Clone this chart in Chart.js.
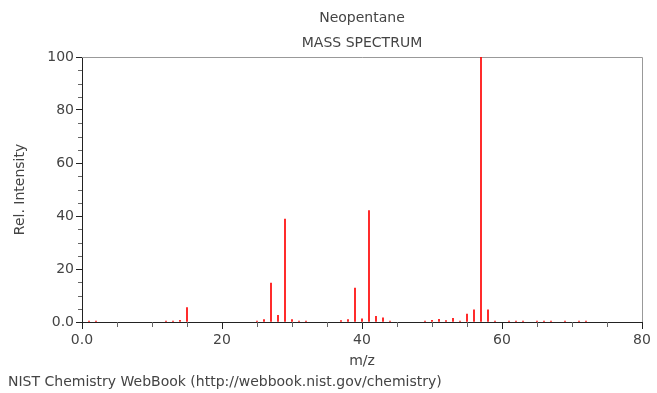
<!DOCTYPE html>
<html>
<head>
<meta charset="utf-8">
<script src="https://cdn.jsdelivr.net/npm/chart.js@4"></script>
<style>
  body { margin: 0; background: #fff; }
  canvas { display: block; }
</style>
</head>
<body>
<canvas id="msChart" width="657" height="393"></canvas>
<script>
// peaks (m/z and relative intensity)
const mzValues = [1, 2, 12, 13, 14, 15, 25, 26, 27, 28, 29, 30, 31, 32, 37, 38, 39, 40, 41, 42, 43, 44,
  49, 50, 51, 52, 53, 54, 55, 56, 57, 58, 59, 61, 62, 63, 65, 66, 67, 69, 71, 72];
const intensities = [0.2, 0.3, 0.2, 0.3, 0.6, 5.4, 0.2, 0.9, 14.7, 2.5, 38.8, 0.9, 0.3, 0.2, 0.5, 0.9, 12.8, 1.2, 42.0, 2.1, 1.6, 0.3,
  0.2, 0.6, 1.0, 0.5, 1.4, 0.2, 3.0, 4.6, 100, 4.6, 0.2, 0.2, 0.2, 0.2, 0.2, 0.2, 0.2, 0.2, 0.2, 0.2];
const titleLines = ['Neopentane', 'MASS SPECTRUM'];
const xLabel = 'm/z';
const yLabel = 'Rel. Intensity';
const footerText = 'NIST Chemistry WebBook (http://webbook.nist.gov/chemistry)';

const FONT = 'DejaVu Sans';
const TEXT = '#444';
const AXIS = '#222';

const peaks = mzValues.map((m, i) => ({ x: m, y: intensities[i] }));

// label only every 20, ticks every 5
function tickLabel(v) {
  if (v % 20 !== 0) return '';
  return v === 0 ? '0.0' : String(v);
}

// frame, minor ticks and footer
const extras = {
  id: 'extras',
  beforeDatasetsDraw(chart) {
    const { ctx, chartArea: a } = chart;
    ctx.save();
    ctx.strokeStyle = '#999';
    ctx.lineWidth = 1;
    ctx.beginPath();
    ctx.moveTo(a.left, a.top + 0.5);
    ctx.lineTo(a.right + 0.5, a.top + 0.5);
    ctx.lineTo(a.right + 0.5, a.bottom);
    ctx.stroke();
    ctx.restore();
  },
  afterDraw(chart) {
    const { ctx, chartArea: a, scales } = chart;
    ctx.save();
    ctx.strokeStyle = '#666';
    ctx.lineWidth = 1;
    ctx.beginPath();
    for (let v = 5; v < 80; v += 5) {
      if (v % 20 === 0) continue;
      const px = Math.round(scales.x.getPixelForValue(v)) + 0.5;
      ctx.moveTo(px, a.bottom);
      ctx.lineTo(px, a.bottom + 5);
    }
    for (let v = 5; v < 100; v += 5) {
      if (v % 20 === 0) continue;
      const py = Math.round(scales.y.getPixelForValue(v)) + 0.5;
      ctx.moveTo(a.left, py);
      ctx.lineTo(a.left - 4, py);
    }
    ctx.stroke();
    ctx.fillStyle = TEXT;
    ctx.font = '14px "' + FONT + '"';
    ctx.textBaseline = 'middle';
    ctx.textAlign = 'left';
    ctx.fillText(footerText, 8, 382);
    ctx.restore();
  }
};

const ctx = document.getElementById('msChart').getContext('2d');
new Chart(ctx, {
  type: 'bar',
  data: {
    datasets: [{
      data: peaks,
      backgroundColor: 'rgb(255, 0, 0)',
      borderWidth: 0,
      barThickness: 1,
      minBarLength: 1
    }]
  },
  options: {
    responsive: false,
    animation: false,
    layout: { padding: { top: 0, right: 15, bottom: 23, left: 0 } },
    plugins: {
      legend: { display: false },
      tooltip: { enabled: false },
      title: {
        display: true,
        fullSize: false,
        text: titleLines,
        color: TEXT,
        font: { family: FONT, size: 14, weight: 'normal', lineHeight: 25 / 14 },
        padding: { top: 6, bottom: 1 }
      }
    },
    scales: {
      x: {
        type: 'linear',
        min: 0,
        max: 80,
        offset: false,
        afterFit: (s) => { s.height = 48; },
        border: { color: AXIS, width: 1 },
        grid: {
          drawOnChartArea: false,
          offset: false,
          tickLength: 7,
          tickColor: (c) => (c.tick && c.tick.value % 20 === 0 ? AXIS : 'rgba(0,0,0,0)')
        },
        ticks: {
          stepSize: 5,
          autoSkip: false,
          maxRotation: 0,
          padding: 3,
          color: TEXT,
          font: { family: FONT, size: 14 },
          callback: tickLabel
        },
        title: {
          display: true,
          text: xLabel,
          color: TEXT,
          font: { family: FONT, size: 14 },
          padding: { top: 0, bottom: 0 }
        }
      },
      y: {
        min: 0,
        max: 100,
        afterFit: (s) => { s.width = 82; },
        border: { color: AXIS, width: 1 },
        grid: {
          drawOnChartArea: false,
          tickLength: 6,
          tickColor: (c) => (c.tick && c.tick.value % 20 === 0 ? AXIS : 'rgba(0,0,0,0)')
        },
        ticks: {
          stepSize: 5,
          autoSkip: false,
          padding: 2,
          color: TEXT,
          font: { family: FONT, size: 14 },
          callback: tickLabel
        },
        title: {
          display: true,
          text: yLabel,
          color: TEXT,
          font: { family: FONT, size: 14 },
          padding: { top: 12, bottom: 0 }
        }
      }
    }
  },
  plugins: [extras]
});
</script>
</body>
</html>
